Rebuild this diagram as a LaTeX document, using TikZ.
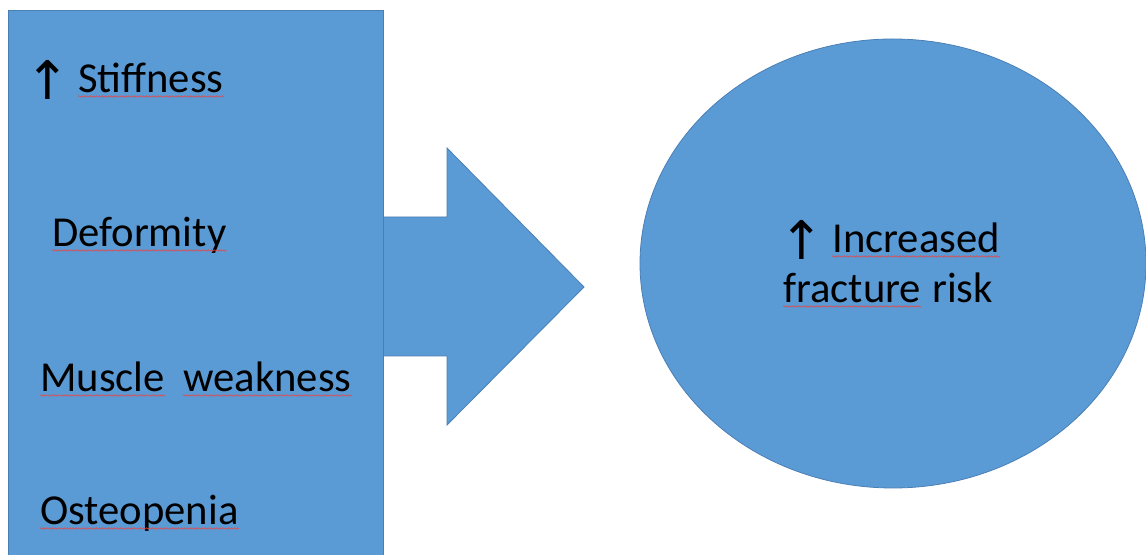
\documentclass[tikz,border=0pt]{standalone}
\usepackage{fontspec}
\setmainfont{Carlito}
\newfontfamily\arrowfont{DejaVu Sans}
\usetikzlibrary{decorations.pathmorphing}

\begin{document}
\begin{tikzpicture}[x=0.75pt, y=-0.75pt,
  font=\fontsize{32}{40}\selectfont,
  blueshape/.style={fill=boxblue, draw=edgeblue, line width=0.6pt},
  word/.style={inner sep=0pt, anchor=base west},
  uparrow/.style={word, font=\arrowfont\fontsize{40}{44}\selectfont, yshift=-5pt},
  squig/.style={draw=squigred, line width=0.45pt,
    decorate, decoration={snake, amplitude=0.55pt, segment length=2.2pt}}]
  \definecolor{boxblue}{HTML}{5B9BD5}
  \definecolor{edgeblue}{HTML}{4A7FB5}
  \definecolor{squigred}{HTML}{E04A4A}
  \useasboundingbox (0,0) rectangle (1146,555);
  % list box
  \path[blueshape] (8,10) rectangle (383,562);
  % block arrow
  \path[blueshape] (384,217) -- (447,217) -- (447,148) -- (584,287)
    -- (447,425) -- (447,356) -- (384,356);
  % outcome ellipse
  \path[blueshape] (893,263.5) ellipse [x radius=253, y radius=224.5];
  % left items
  \node[uparrow] (up1) at (25,93) {↑};
  \node[word] (stiff) at (78,93) {Stiffness};
  \node[word] (deform) at (52,247) {Deformity};
  \node[word] (muscle) at (40,392) {Muscle};
  \node[word] (weak) at (183,392) {weakness};
  \node[word] (osteo) at (40,525) {Osteopenia};
  % ellipse text
  \node[uparrow] (up2) at (779,253) {↑};
  \node[word] (incr) at (832,253) {Increased};
  \node[word] (fract) at (783,303) {fracture};
  \node[word] (risk) at (932,303) {risk};
  % spell-check marks
  \foreach \w in {stiff,deform,muscle,weak,osteo,incr,fract}
    \draw[squig] ([yshift=-2.6pt]\w.base west) -- ([yshift=-2.6pt]\w.base east);
\end{tikzpicture}
\end{document}
